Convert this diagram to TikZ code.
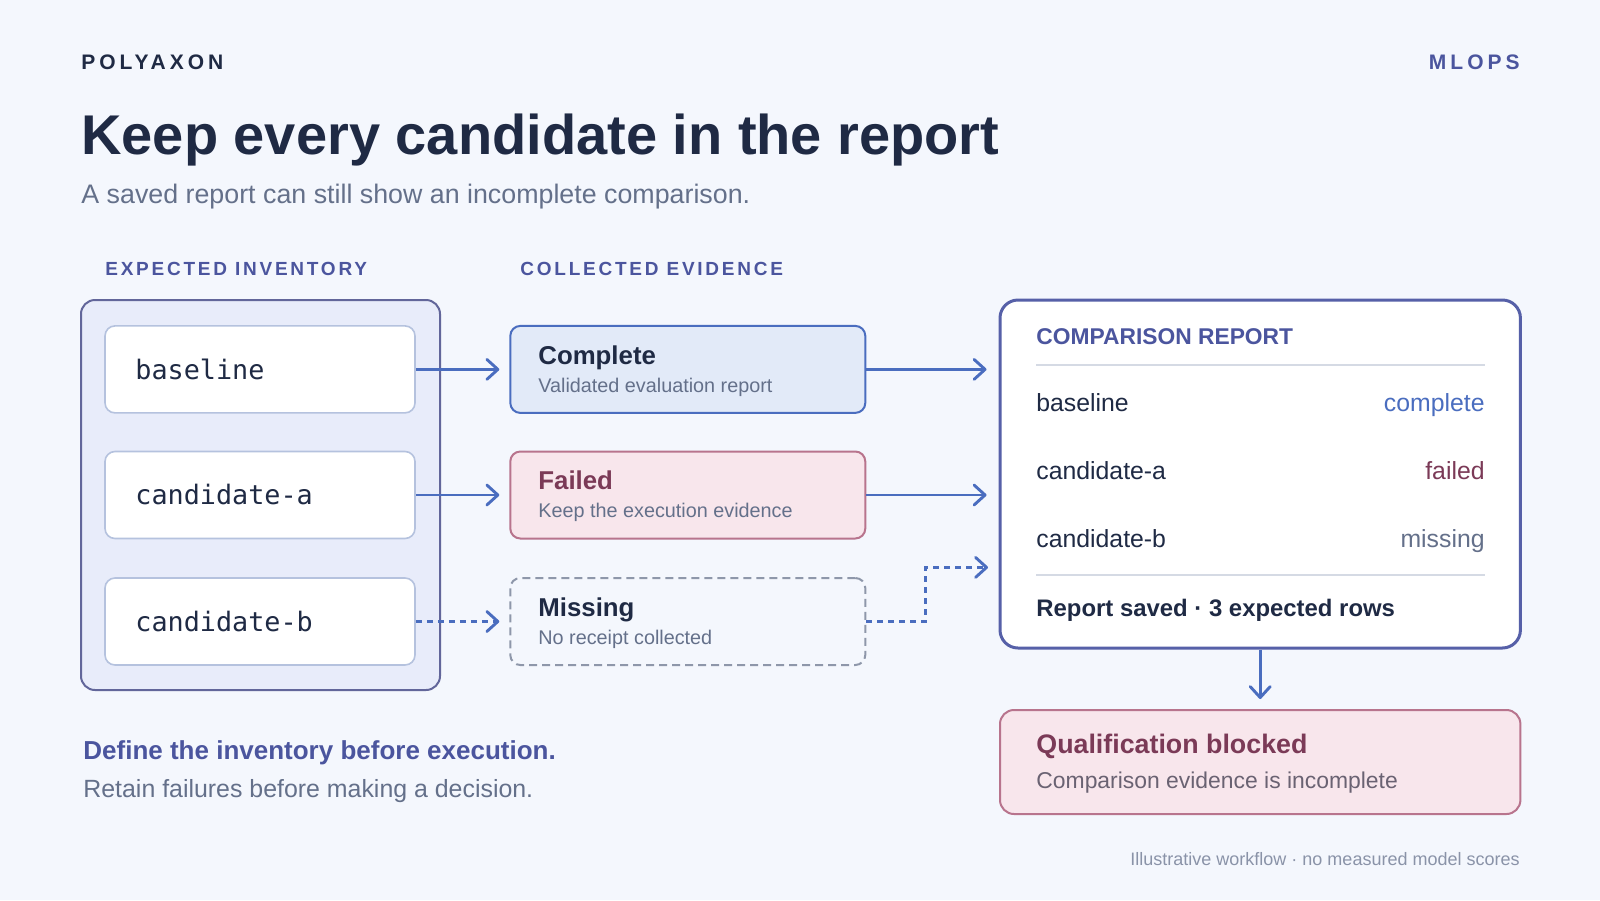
\documentclass[tikz,border=0pt]{standalone}
\usepackage{fontspec}
\setmainfont{Liberation Sans}
\setmonofont{DejaVu Sans Mono}
\newfontfamily\spacedfont[LetterSpace=19]{Liberation Sans}
\newfontfamily\trackfont[LetterSpace=14.5]{Liberation Sans}
\usetikzlibrary{arrows.meta}

\definecolor{bgpage}{HTML}{F4F7FD}
\definecolor{ink}{HTML}{1F2A44}
\definecolor{indigo}{HTML}{4B559E}
\definecolor{slate}{HTML}{64708A}
\definecolor{invfill}{HTML}{E8ECFA}
\definecolor{invline}{HTML}{62669A}
\definecolor{itemline}{HTML}{B5C2DE}
\definecolor{flow}{HTML}{4A6DBF}
\definecolor{okfill}{HTML}{E2EAF8}
\definecolor{badfill}{HTML}{F8E6EC}
\definecolor{badline}{HTML}{B8748D}
\definecolor{badink}{HTML}{7B3A57}
\definecolor{badsub}{HTML}{6A6272}
\definecolor{dashline}{HTML}{8E97AA}
\definecolor{repline}{HTML}{5660A8}
\definecolor{rulegray}{HTML}{D5DAE4}
\definecolor{mute}{HTML}{8A93A8}

\begin{document}
\begin{tikzpicture}[x=0.5pt,y=-0.5pt,
    txt/.style={inner sep=0pt,anchor=base west},
    item/.style={draw=itemline,line width=0.8pt,fill=white,rounded corners=5pt,
      minimum width=155pt,minimum height=43.5pt},
    okbox/.style={draw=flow,line width=1pt,fill=okfill,rounded corners=5pt,
      minimum width=177.5pt,minimum height=43.5pt},
    badbox/.style={okbox,draw=badline,fill=badfill},
    nobox/.style={okbox,draw=dashline,fill=none,dash pattern=on 4pt off 2.5pt},
    flowline/.style={draw=flow,line width=1.45pt,
      -{Straight Barb[length=5.5pt,width=10pt,round]}},
    dashflow/.style={flowline,dash pattern=on 3pt off 2.5pt},
    mono/.style={txt,font=\ttfamily\fontsize{13.4}{15}\selectfont,text=ink},
    evhead/.style={txt,font=\bfseries\fontsize{12.9}{15}\selectfont},
    evsub/.style={txt,font=\fontsize{9.9}{12}\selectfont,text=slate},
    rowtxt/.style={txt,font=\fontsize{12.4}{14}\selectfont,text=ink},
    rowval/.style={rowtxt,anchor=base east}]

  % page
  \fill[bgpage] (0,0) rectangle (1600,900);

  % header
  \node[txt,font=\spacedfont\bfseries\fontsize{10.5}{12}\selectfont,text=ink] (brand) at (81,69.7) {POLYAXON};
  \node[txt,anchor=base east,font=\spacedfont\bfseries\fontsize{10.5}{12}\selectfont,text=indigo] (topic) at (1520,69.7) {MLOPS};
  \node[txt,font=\bfseries\fontsize{28}{32}\selectfont,text=ink] (title) at (81,154) {Keep every candidate in the report};
  \node[txt,font=\fontsize{13.4}{16}\selectfont,text=slate] (subtitle) at (81,203.5) {A saved report can still show an incomplete comparison.};

  % column heads
  \node[txt,font=\trackfont\bfseries\fontsize{9.5}{11}\selectfont,text=indigo] (invhead) at (105,275.2) {EXPECTED INVENTORY};
  \node[txt,font=\trackfont\bfseries\fontsize{9.5}{11}\selectfont,text=indigo] (evhead) at (520,275.2) {COLLECTED EVIDENCE};

  % expected inventory
  \node[draw=invline,fill=invfill,line width=1pt,rounded corners=7pt,
    minimum width=179.5pt,minimum height=195pt] (inv) at (260.5,495) {};
  \node[item] (base) at (260,369.4) {};
  \node[item] (canda) at (260,495) {};
  \node[item] (candb) at (260,621.5) {};
  \node[mono] (baset) at (135,379.2) {baseline};
  \node[mono] (candat) at (135,504.8) {candidate-a};
  \node[mono] (candbt) at (135,631.3) {candidate-b};

  % collected evidence
  \node[okbox] (done) at (687.8,369.4) {};
  \node[badbox] (fail) at (687.8,495) {};
  \node[nobox] (miss) at (687.8,621.5) {};
  \node[evhead,text=ink] (donet) at (538,364.2) {Complete};
  \node[evsub] (dones) at (538,392.1) {Validated evaluation report};
  \node[evhead,text=badink] (failt) at (538,489.8) {Failed};
  \node[evsub] (fails) at (538,517.7) {Keep the execution evidence};
  \node[evhead,text=ink] (misst) at (538,616.3) {Missing};
  \node[evsub] (misss) at (538,644.2) {No receipt collected};

  % inventory -> evidence
  \draw[flowline,shorten >=5pt] (base) -- (done);
  \draw[flowline,shorten >=5pt] (canda) -- (fail);
  \draw[dashflow,shorten >=5pt] (candb) -- (miss);

  % comparison report
  \node[draw=repline,fill=white,line width=1.5pt,rounded corners=9pt,
    minimum width=260.2pt,minimum height=174pt] (rep) at (1260.2,474) {};
  \node[txt,font=\bfseries\fontsize{11.4}{13}\selectfont,text=indigo] (rept) at (1036,344.9) {COMPARISON REPORT};
  \draw[rulegray,line width=1pt] (1036,365.3) -- (1485,365.3);
  \node[rowtxt] (r1) at (1036,411.9) {baseline};
  \node[rowval,text=flow] (v1) at (1485,411.9) {complete};
  \node[rowtxt] (r2) at (1036,479.3) {candidate-a};
  \node[rowval,text=badink] (v2) at (1485,479.3) {failed};
  \node[rowtxt] (r3) at (1036,547.7) {candidate-b};
  \node[rowval,text=slate] (v3) at (1485,547.7) {missing};
  \draw[rulegray,line width=1pt] (1036,574.5) -- (1485,574.5);
  \node[txt,font=\bfseries\fontsize{11.95}{14}\selectfont,text=ink] (saved) at (1036,616.6) {Report saved · 3 expected rows};

  % evidence -> report
  \coordinate (repin) at (1000,567.4);
  \draw[flowline,shorten >=6pt] (done.east) -- (done.east -| rep.west);
  \draw[flowline,shorten >=6pt] (fail.east) -- (fail.east -| rep.west);
  \draw[dashflow,shorten >=6pt] (miss.east) -- ++(59,0) |- (repin);

  % blocked decision
  \node[draw=badline,fill=badfill,line width=1pt,rounded corners=7pt,
    minimum width=260.2pt,minimum height=52pt] (blk) at (1260.2,762) {};
  \draw[flowline,shorten >=5pt] (rep) -- (blk);
  \node[txt,font=\bfseries\fontsize{13.4}{16}\selectfont,text=badink] (blkt) at (1036,753.6) {Qualification blocked};
  \node[txt,font=\fontsize{11.45}{14}\selectfont,text=badsub] (blks) at (1036,788.8) {Comparison evidence is incomplete};

  % notes
  \node[txt,font=\bfseries\fontsize{13}{15}\selectfont,text=indigo] (note1) at (83,759.3) {Define the inventory before execution.};
  \node[txt,font=\fontsize{12.45}{15}\selectfont,text=slate] (note2) at (83,797.7) {Retain failures before making a decision.};
  \node[txt,anchor=base east,font=\fontsize{9}{11}\selectfont,text=mute] (foot) at (1520,865.4) {Illustrative workflow · no measured model scores};
\end{tikzpicture}
\end{document}
